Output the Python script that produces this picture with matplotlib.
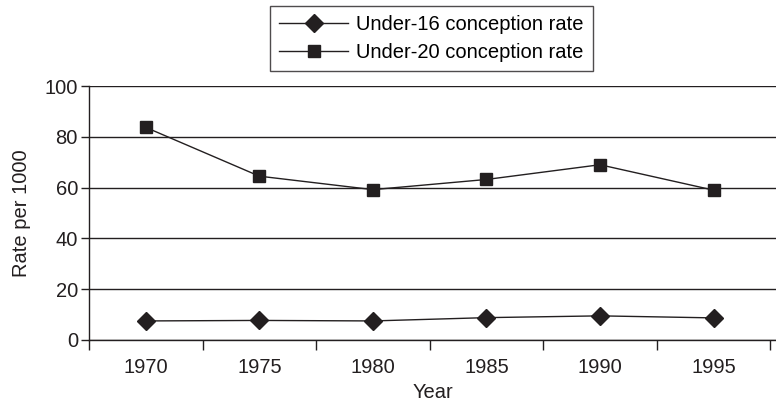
import matplotlib
matplotlib.use("Agg")
import matplotlib.pyplot as plt
import numpy as np

plt.rcParams['font.family'] = ['Liberation Sans', 'DejaVu Sans']

# data
years = ['1970', '1975', '1980', '1985', '1990', '1995']
under16 = [7.5, 7.7, 7.5, 8.8, 9.5, 8.7]
under20 = [83.7, 64.5, 59.2, 63.2, 69.0, 59.0]
yticks = [0, 20, 40, 60, 80, 100]

ink = '#231f20'
fs = 14.5

fig = plt.figure(figsize=(7.76, 4.08), dpi=100)
ax = fig.add_axes([0.1147, 0.1667, 0.8853, 0.6225])

x = np.arange(len(years))
ax.plot(x, under16, color=ink, lw=1, marker='D', ms=9.5, mfc=ink, mec=ink,
        label='Under-16 conception rate')
ax.plot(x, under20, color=ink, lw=1, marker='s', ms=9, mfc=ink, mec=ink,
        label='Under-20 conception rate')

ax.set_ylim(0, 100)
ax.set_xlim(-0.5, 5.55)
ax.set_yticks(yticks)
ax.set_xticks(x)
ax.set_xticklabels(years)
ax.set_xticks(np.arange(len(years) + 1) - 0.5, minor=True)
ax.tick_params(axis='x', which='major', length=0, pad=13, labelsize=fs, colors=ink)
ax.tick_params(axis='x', which='minor', length=7, width=1, color=ink, direction='out')
ax.tick_params(axis='y', length=6, width=1, color=ink, labelsize=fs, labelcolor=ink, pad=2)

ax.yaxis.grid(True, color=ink, lw=1)
ax.set_axisbelow(True)
for s in ['top', 'right']:
    ax.spines[s].set_visible(False)
for s in ['left', 'bottom']:
    ax.spines[s].set_color(ink)
    ax.spines[s].set_linewidth(1)

ax.set_xlabel('Year', fontsize=fs, color=ink, labelpad=4)
ax.set_ylabel('Rate per 1000', fontsize=fs, color=ink, labelpad=10)

leg = ax.legend(loc='upper left', bbox_to_anchor=(0.264, 1.314), ncol=1,
                fontsize=fs, frameon=True, fancybox=False, edgecolor=ink,
                handlelength=3.4, numpoints=1, borderpad=0.45, labelspacing=0.45,
                handletextpad=0.4, borderaxespad=0)
leg.get_frame().set_linewidth(1)

fig.savefig('out.png', dpi=100)
